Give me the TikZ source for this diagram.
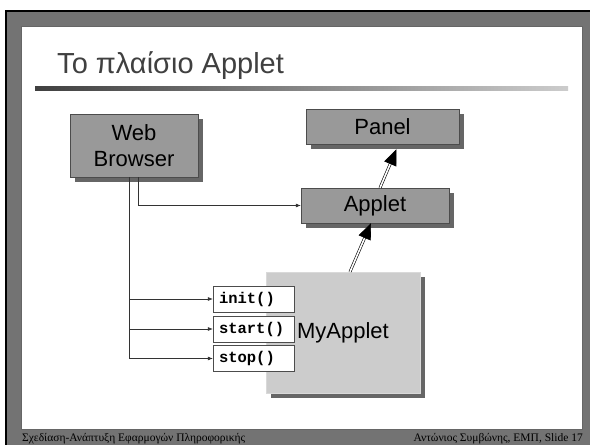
\documentclass[tikz,border=0pt]{standalone}
\usepackage{fontspec}
\setmainfont{Liberation Sans}
\newfontfamily\footfont{Liberation Serif}
\newfontfamily\codefont{Liberation Mono}
\usetikzlibrary{arrows.meta,shadows}

\begin{document}
\begin{tikzpicture}[x=1pt,y=-1pt,>={Latex[length=5pt,width=4pt]},
	klasi/.style={draw=black!70,fill=black!40,align=center,inner sep=0pt,font=\fontsize{22}{26}\selectfont,
		drop shadow={shadow xshift=5pt,shadow yshift=-5pt,opacity=1,fill=black!60}},
	methodos/.style={draw=black!70,fill=white,minimum height=26pt,text width=69pt,inner xsep=6pt,inner ysep=0pt,align=left,font=\codefont\bfseries\fontsize{15.5}{17}\selectfont},
	klisi/.style={->,draw=black!80,line width=0.6pt},
	klironomia/.style={-{Triangle[length=16pt,width=13pt]},double,double distance=1.6pt,line width=0.6pt}]
	\useasboundingbox (0,0) rectangle (590,445);
	% slide frame
	\shade[left color=black!55,middle color=black!30,right color=black!55] (7,11) rectangle (590,445);
	\draw[line width=2pt] (6,445) -- (6,11) -- (590,11);
	\filldraw[fill=white,draw=black!60] (21,26) rectangle (582,429);
	\shade[left color=black!75,right color=black!20] (35,86) rectangle (568,90);
	\node[anchor=base west,inner sep=0pt,text=black!75,font=\fontsize{29}{32}\selectfont] (titlos) at (57,73) {Το πλαίσιο Applet};
	\node[anchor=base west,inner sep=0pt,font=\footfont\fontsize{11.5}{13}\selectfont] (ypotitlos) at (22,441) {Σχεδίαση-Ανάπτυξη Εφαρμογών Πληροφορικής};
	\node[anchor=base east,inner sep=0pt,font=\footfont\fontsize{11.5}{13}\selectfont] (selida) at (583,441) {Αντώνιος Συμβώνης, ΕΜΠ, Slide 17};
	% classes
	\node[klasi,minimum width=128pt,minimum height=63pt] (browser) at (134,145.5) {Web\\Browser};
	\node[klasi,minimum width=153pt,minimum height=35pt] (panel) at (382.5,126.5) {Panel};
	\node[klasi,minimum width=148pt,minimum height=35pt] (applet) at (375,205.5) {Applet};
	\node[klasi,fill=black!20,draw=black!15,minimum width=154pt,minimum height=121pt] (myapplet) at (343,332.5) {MyApplet};
	\node[methodos] (init) at (253.5,299) {init()};
	\node[methodos] (start) at (253.5,329) {start()};
	\node[methodos] (stop) at (253.5,358.5) {stop()};
	% calls
	\draw[klisi] ([xshift=-5pt]browser.south) |- (init.west);
	\draw[klisi] ([xshift=-5pt]browser.south) |- (start.west);
	\draw[klisi] ([xshift=-5pt]browser.south) |- (stop.west);
	\draw[klisi] ([xshift=4pt]browser.south) |- (applet.west);
	% inheritance
	\draw[klironomia] ([xshift=7pt]myapplet.north) -- ([xshift=-4pt]applet.south);
	\draw[klironomia] ([xshift=5pt]applet.north) -- ([xshift=14pt,yshift=-5pt]panel.south);
\end{tikzpicture}
\end{document}
